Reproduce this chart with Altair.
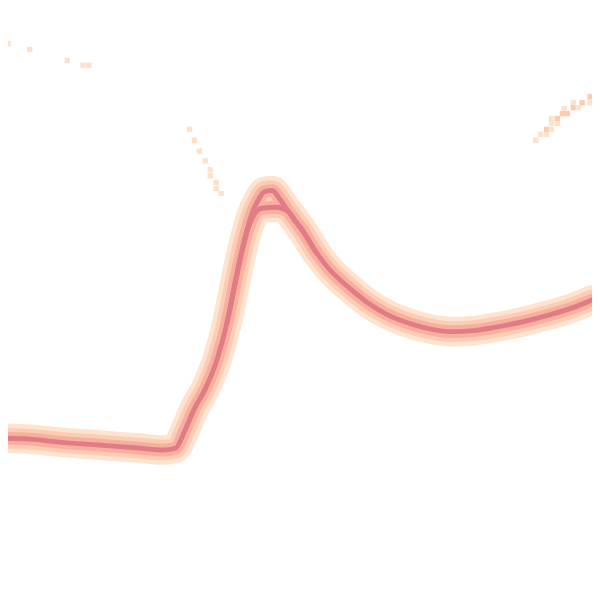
import altair as alt
import pandas as pd

# Main series (t = horizontal position, v = value)
main_t = [0, 30, 60, 100, 140, 165, 178, 187, 197, 208, 220, 230, 240, 245, 250, 255, 262, 268,
          276, 283, 290, 297, 305, 318, 333, 353, 373, 393, 410, 430, 457, 480, 500, 530, 557, 580, 600]
main_y = [440, 441, 444, 447, 450, 452, 450, 433, 410, 390, 360, 323, 273, 250, 230, 213, 198, 190,
          189, 197, 207, 217, 227, 248, 268, 287, 303, 315, 322, 328, 332, 331, 328, 322, 315, 308, 300]

# Second series diverging near the peak
alt_t = [230, 240, 245, 250, 257, 265, 280, 292, 300, 310, 320]
alt_y = [323, 275, 252, 232, 214, 207, 206, 210, 221, 235, 251]

# Sparse faint cells (outlier series)
cell_t = [8, 30, 68, 84, 90,
          192, 197, 202, 208, 213, 213, 219, 219, 224,
          543, 548, 554, 554, 559, 559, 565, 559, 565, 570, 575, 572, 581, 586, 581, 590, 598, 598]
cell_y = [40, 46, 57, 62, 62,
          127, 138, 149, 159, 168, 174, 181, 187, 192,
          138, 132, 132, 127, 127, 121, 121, 116, 116, 111, 111, 106, 105, 105, 100, 100, 100, 94]
cell_lvl = [1, 1, 1, 1, 1,
            1, 1, 1, 1, 1, 1, 1, 1, 1,
            1, 1, 1, 2, 1, 1, 1, 1, 2, 2, 2, 1, 2, 1, 1, 2, 1, 2]

rows = []
for t, y in zip(main_t, main_y):
    rows.append({"s": "a", "t": t, "v": 600 - y})
for t, y in zip(alt_t, alt_y):
    rows.append({"s": "b", "t": t, "v": 600 - y})
lines = pd.DataFrame(rows)

cells = pd.DataFrame({"t": cell_t, "v": [600 - y for y in cell_y], "lvl": cell_lvl})

xs = alt.Scale(domain=[8, 600], nice=False, zero=False)
ys = alt.Scale(domain=[0, 592], nice=False, zero=False)

base = alt.Chart(lines).encode(
    x=alt.X("t:Q", scale=xs, axis=None),
    y=alt.Y("v:Q", scale=ys, axis=None),
    detail="s:N",
)

styles = [(30, "#FEE3CE"), (21, "#FCCDB6"), (13, "#F8B09E"), (5, "#E17C86")]
layers = [
    base.mark_line(color=c, strokeWidth=w, strokeCap="round", strokeJoin="round",
                   interpolate="monotone", clip=True)
    for w, c in styles
]

cell_chart = alt.Chart(cells).mark_square(size=30, opacity=1, clip=True).encode(
    x=alt.X("t:Q", scale=xs, axis=None),
    y=alt.Y("v:Q", scale=ys, axis=None),
    color=alt.Color("lvl:O", scale=alt.Scale(domain=[1, 2], range=["#FEE1CB", "#FCCBB3"]), legend=None),
)

chart = alt.layer(*layers, cell_chart).properties(
    width=592, height=592, padding=0, autosize="none", background="white"
).configure_view(stroke=None)

chart.save("out.html", embed_options={"renderer": "svg", "actions": False})
